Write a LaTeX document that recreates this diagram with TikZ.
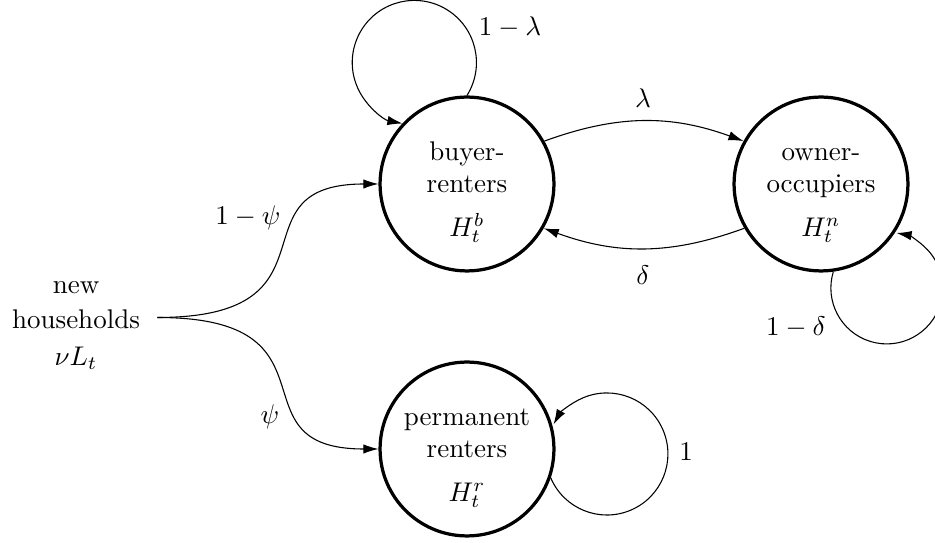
\documentclass[tikz,border=0pt]{standalone}
\usetikzlibrary{arrows.meta}
% invisible rule that sets the height of the first text line
\newcommand{\firstline}[1]{\rule{0pt}{#1}}
\begin{document}
\begin{tikzpicture}[x=0.37037pt, y=-0.37037pt,
  state/.style={circle, draw, line width=1.2pt, minimum size=64.4pt, inner sep=0pt, align=center},
  flow/.style={-{Latex[length=5.6pt,width=3.5pt]}, line width=0.4pt},
]
\useasboundingbox (0,0) rectangle (935,543);

% household states
\node[state] (B) at (467,184) {\firstline{13pt}buyer-\\renters\\[4pt]$H_t^b$};
\node[state] (O) at (821,184) {\firstline{13pt}owner-\\occupiers\\[4pt]$H_t^n$};
\node[state] (P) at (467,449) {\firstline{13pt}permanent\\renters\\[4pt]$H_t^r$};
\node[align=center, inner sep=6.3pt] (N) at (76,317.5)
  {\firstline{10.4pt}new\\[1pt]households\\[1.5pt]$\nu L_t$};

% entry of new households
\draw[flow] (N.east) .. controls +(190,0) and +(-150,0) .. (B.west);
\draw[flow] (N.east) .. controls +(190,0) and +(-150,0) .. (P.west);

% transitions between states
\draw[flow] (B.29) to[bend left=20] (O.151);
\draw[flow] (O.210) to[bend left=20] (B.-30);

% staying in the same state
\draw[flow] (B.90) arc[start angle=-32, end angle=259, radius=23pt];
\draw[flow] (O.-82) arc[start angle=163, end angle=440, radius=20.7pt];
\draw[flow] (P.-19) arc[start angle=203, end angle=511, radius=22.6pt];

% transition probabilities
\node (lpsi) at (248,218) {$1-\psi$};
\node (lpsir) at (270,417) {$\psi$};
\node (llam) at (643,98) {$\lambda$};
\node (ldel) at (643,275) {$\delta$};
\node (lstayb) at (510,27) {$1-\lambda$};
\node (lstayo) at (796,327) {$1-\delta$};
\node (lstayp) at (686,452) {$1$};
\end{tikzpicture}
\end{document}
